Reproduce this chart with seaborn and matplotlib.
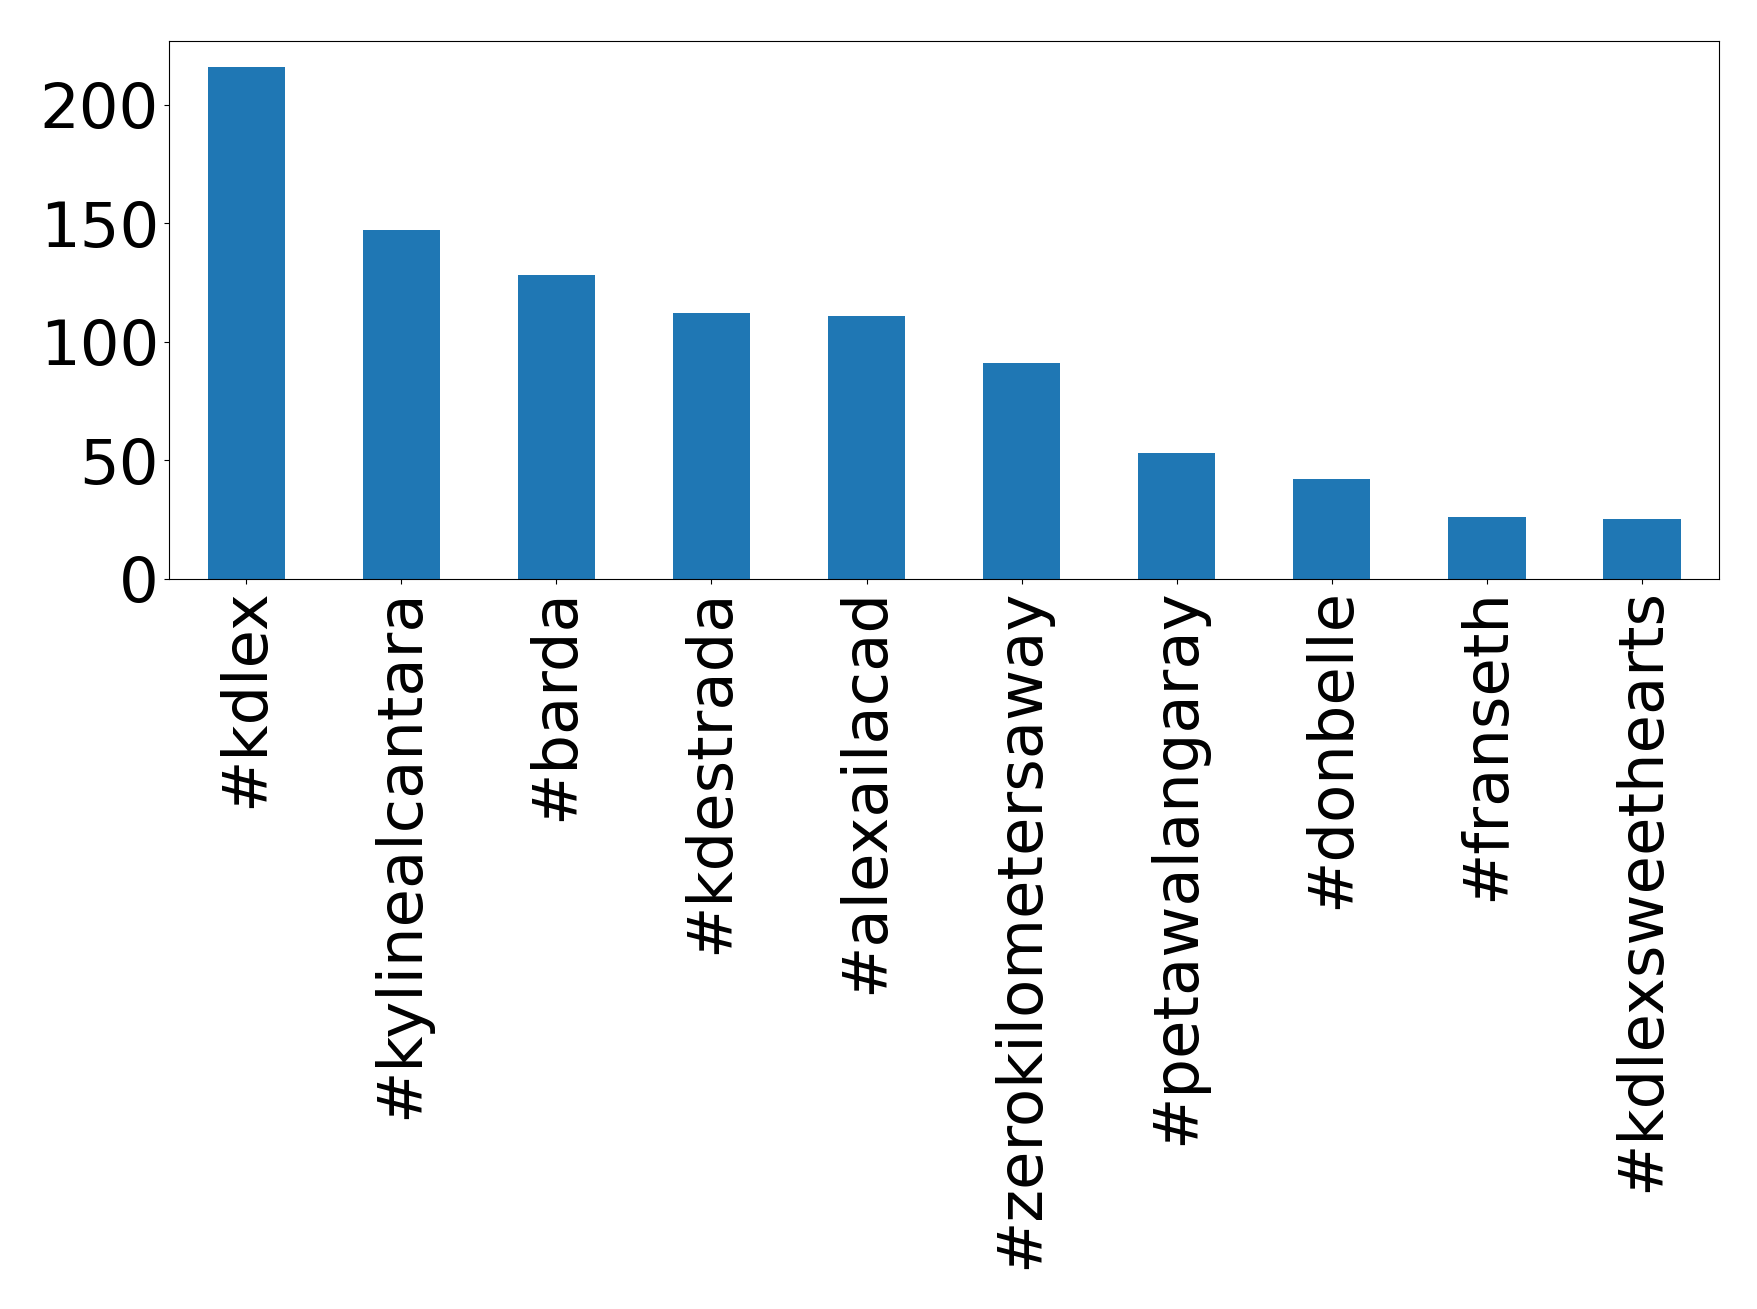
import matplotlib
matplotlib.use("Agg")
import matplotlib.pyplot as plt
import seaborn as sns
import pandas as pd

# hashtag counts
hashtags = ["#kdlex", "#kylinealcantara", "#barda", "#kdestrada", "#alexailacad",
            "#zerokilometersaway", "#petawalangaray", "#donbelle", "#franseth",
            "#kdlexsweethearts"]
counts = [216, 147, 128, 112, 111, 91, 53, 42, 26, 25]

df = pd.DataFrame({"hashtag": hashtags, "count": counts})

fig, ax = plt.subplots(figsize=(17.58, 13.09), dpi=100)
fig.subplots_adjust(left=0.096, right=0.978, top=0.969, bottom=0.558)

sns.barplot(data=df, x="hashtag", y="count", color="#1f77b4", saturation=1,
            width=0.5, ax=ax)

ax.set_xlim(-0.5, len(hashtags) - 0.5)
ax.set_ylim(0, 227)
ax.set_yticks([0, 50, 100, 150, 200])
ax.set_xlabel("")
ax.set_ylabel("")
ax.tick_params(axis="both", labelsize=45)
ax.tick_params(axis="x", labelrotation=90)

plt.savefig("out.png", dpi=100)
